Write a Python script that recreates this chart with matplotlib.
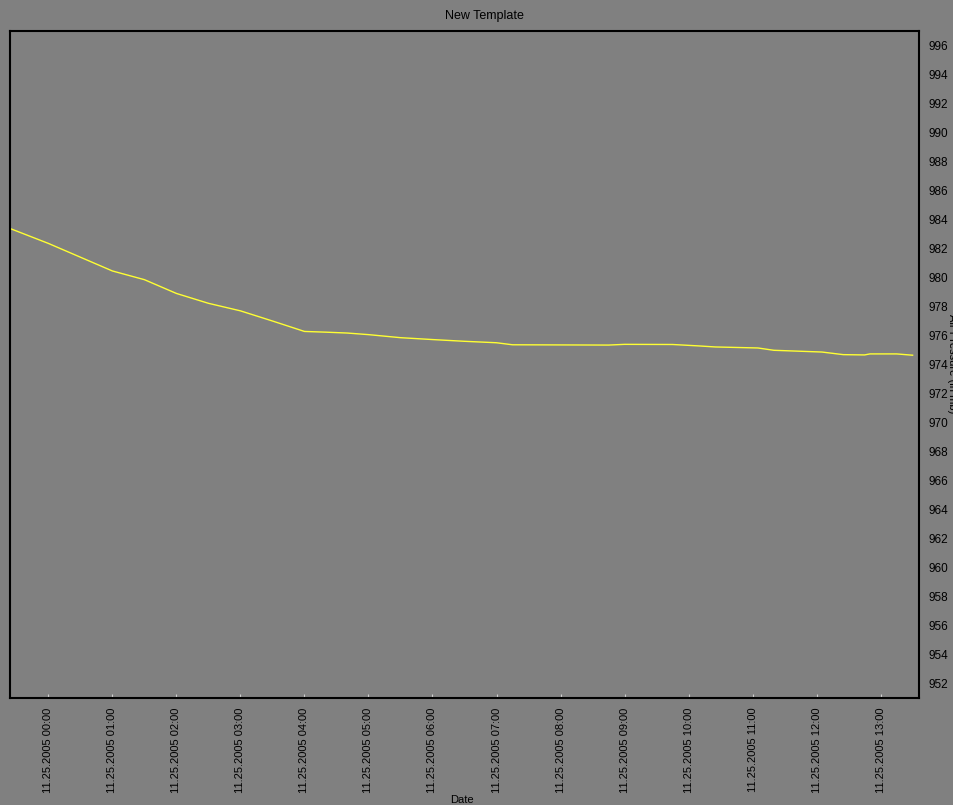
import matplotlib
matplotlib.use("Agg")
import matplotlib.pyplot as plt
import matplotlib.dates as mdates
import pandas as pd

# pressure readings (time, mb)
times = ["2005-11-24 23:24", "2005-11-25 00:00", "2005-11-25 00:30", "2005-11-25 01:00",
         "2005-11-25 01:30", "2005-11-25 02:00", "2005-11-25 02:30", "2005-11-25 03:00",
         "2005-11-25 03:30", "2005-11-25 04:00", "2005-11-25 04:20", "2005-11-25 04:40",
         "2005-11-25 05:00", "2005-11-25 05:30", "2005-11-25 06:00", "2005-11-25 06:30",
         "2005-11-25 07:00", "2005-11-25 07:15", "2005-11-25 08:45", "2005-11-25 09:00",
         "2005-11-25 09:45", "2005-11-25 10:10", "2005-11-25 10:25", "2005-11-25 11:05",
         "2005-11-25 11:20", "2005-11-25 12:05", "2005-11-25 12:25", "2005-11-25 12:45",
         "2005-11-25 12:50", "2005-11-25 13:15", "2005-11-25 13:30"]
pressure = [983.38, 982.35, 981.4, 980.45, 979.85, 978.9, 978.22, 977.7,
            977.0, 976.28, 976.23, 976.17, 976.06, 975.85, 975.72, 975.60,
            975.50, 975.36, 975.34, 975.39, 975.38, 975.28, 975.21, 975.14,
            974.98, 974.86, 974.68, 974.66, 974.73, 974.73, 974.64]

title = "New Template"
xlabel = "Date"
ylabel = "Air Pressure (in mb)"
yticks = list(range(952, 997, 2))

t = pd.to_datetime(times)
bg = "#808080"

plt.rcParams["font.family"] = ["Liberation Sans", "DejaVu Sans"]

fig = plt.figure(figsize=(9.54, 8.05), dpi=100, facecolor=bg)
ax = fig.add_axes([10 / 954, 107 / 805, 909 / 954, 667 / 805])
ax.set_facecolor(bg)

ax.plot(t, pressure, color="#ffff33", linewidth=1.0)

ax.set_xlim(pd.Timestamp("2005-11-24 23:24:00"), pd.Timestamp("2005-11-25 13:36:00"))
ax.set_ylim(951, 997)

ax.yaxis.tick_right()
ax.set_yticks(yticks)
ax.tick_params(axis="y", length=0, pad=7, labelsize=8.5, labelcolor="black")

ax.xaxis.set_major_locator(mdates.HourLocator())
ax.xaxis.set_major_formatter(mdates.DateFormatter("%m.%d.%Y %H:%M"))
ax.tick_params(axis="x", direction="in", length=3, color="#d0d0d0",
               labelsize=8, pad=7)
for lbl in ax.get_xticklabels():
    lbl.set_rotation(90)

for s in ax.spines.values():
    s.set_linewidth(1.5)
    s.set_color("black")

fig.text(484 / 954, 1 - 16 / 805, title, ha="center", va="center", fontsize=9)
fig.text(462 / 954, 1 - 800 / 805, xlabel, ha="center", va="center", fontsize=8)
fig.text(947 / 954, 1 - 364 / 805, ylabel, ha="left", va="center", rotation=270, fontsize=8)

fig.savefig("out.png", dpi=100, facecolor=bg)
